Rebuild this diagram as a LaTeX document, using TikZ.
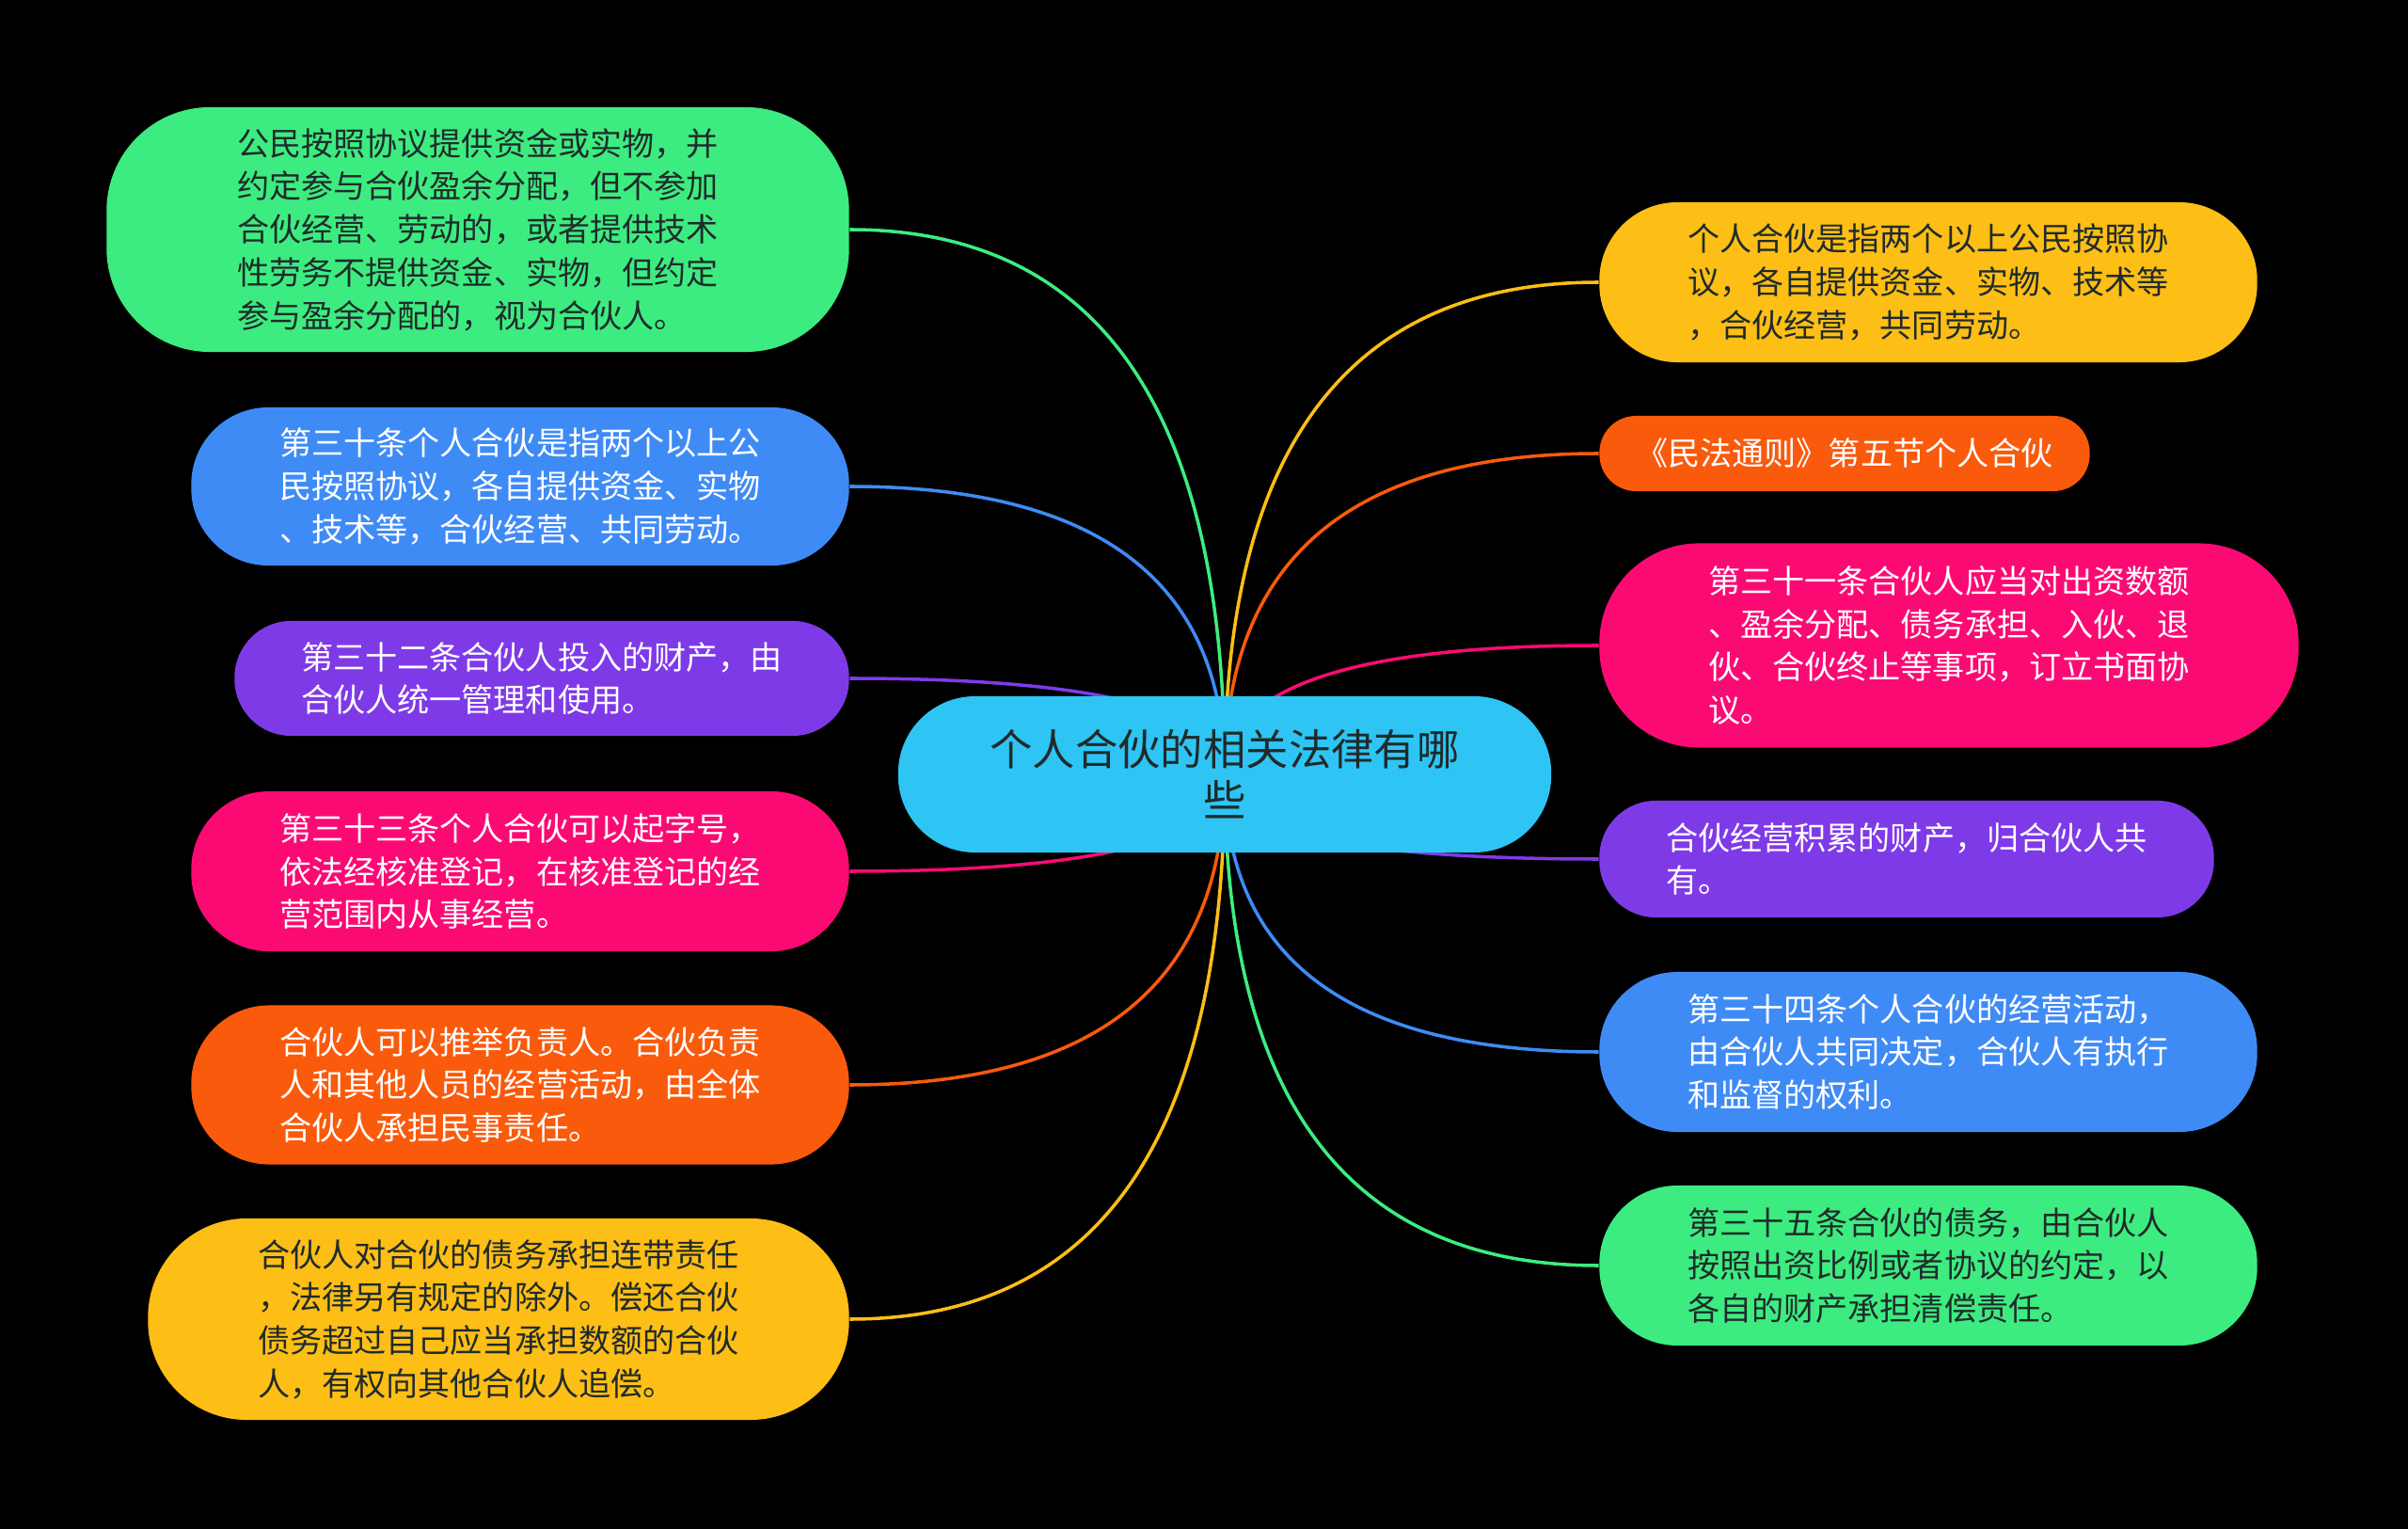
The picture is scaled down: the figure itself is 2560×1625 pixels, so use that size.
\documentclass[tikz,border=0pt]{standalone}
\usepackage{fontspec}
\setmainfont{Noto Sans CJK SC}
\usetikzlibrary{calc, backgrounds}

\definecolor{cgreen}{HTML}{3DEC80}
\definecolor{cblue}{HTML}{3F8BF6}
\definecolor{cpurple}{HTML}{7F3AE8}
\definecolor{cmagenta}{HTML}{FC0A74}
\definecolor{corange}{HTML}{FA5A0C}
\definecolor{cyellow}{HTML}{FDBE16}
\definecolor{ccyan}{HTML}{2EC5F4}
\definecolor{cdark}{HTML}{1F2B2B}

\tikzset{
	leaf/.style={rectangle, rounded corners=#1, align=left, inner sep=0pt,
		font=\fontsize{9.7}{13}\selectfont},
	link/.style={line width=1pt},
}

\begin{document}
\begin{tikzpicture}[x=0.01cm, y=-0.01cm]
			% centre
			\node[rectangle, rounded corners=0.82cm, fill=ccyan, text=cdark, align=center,
				minimum width=6.94cm, minimum height=1.66cm,
				font=\fontsize{12.9}{15.4}\selectfont] (c) at (1302,823) {个人合伙的相关法律有哪\\些};

			% left side
			\node[leaf=1.1cm, fill=cgreen, text=cdark, minimum width=7.89cm, minimum height=2.6cm] (l1) at (508,244)
				{公民按照协议提供资金或实物，并\\约定参与合伙盈余分配，但不参加\\合伙经营、劳动的，或者提供技术\\性劳务不提供资金、实物，但约定\\参与盈余分配的，视为合伙人。};
			\node[leaf=0.82cm, fill=cblue, text=white, minimum width=6.99cm, minimum height=1.68cm] (l2) at (553,517)
				{第三十条个人合伙是指两个以上公\\民按照协议，各自提供资金、实物\\、技术等，合伙经营、共同劳动。};
			\node[leaf=0.6cm, fill=cpurple, text=white, minimum width=6.53cm, minimum height=1.22cm] (l3) at (576,721)
				{第三十二条合伙人投入的财产，由\\合伙人统一管理和使用。};
			\node[leaf=0.83cm, fill=cmagenta, text=white, minimum width=6.99cm, minimum height=1.7cm] (l4) at (553,926)
				{第三十三条个人合伙可以起字号，\\依法经核准登记，在核准登记的经\\营范围内从事经营。};
			\node[leaf=0.83cm, fill=corange, text=white, minimum width=6.99cm, minimum height=1.69cm] (l5) at (553,1153)
				{合伙人可以推举负责人。合伙负责\\人和其他人员的经营活动，由全体\\合伙人承担民事责任。};
			\node[leaf=1.05cm, fill=cyellow, text=cdark, minimum width=7.45cm, minimum height=2.14cm] (l6) at (530,1402)
				{合伙人对合伙的债务承担连带责任\\，法律另有规定的除外。偿还合伙\\债务超过自己应当承担数额的合伙\\人，有权向其他合伙人追偿。};

			% right side
			\node[leaf=0.83cm, fill=cyellow, text=cdark, minimum width=6.99cm, minimum height=1.7cm] (r1) at (2050,300)
				{个人合伙是指两个以上公民按照协\\议，各自提供资金、实物、技术等\\，合伙经营，共同劳动。};
			\node[leaf=0.39cm, fill=corange, text=white, minimum width=5.21cm, minimum height=0.8cm] (r2) at (1961,482)
				{《民法通则》第五节个人合伙};
			\node[leaf=1.06cm, fill=cmagenta, text=white, minimum width=7.43cm, minimum height=2.17cm] (r3) at (2072,686)
				{第三十一条合伙人应当对出资数额\\、盈余分配、债务承担、入伙、退\\伙、合伙终止等事项，订立书面协\\议。};
			\node[leaf=0.6cm, fill=cpurple, text=white, minimum width=6.53cm, minimum height=1.24cm] (r4) at (2027,913)
				{合伙经营积累的财产，归合伙人共\\有。};
			\node[leaf=0.83cm, fill=cblue, text=white, minimum width=6.99cm, minimum height=1.7cm] (r5) at (2050,1118)
				{第三十四条个人合伙的经营活动，\\由合伙人共同决定，合伙人有执行\\和监督的权利。};
			\node[leaf=0.83cm, fill=cgreen, text=cdark, minimum width=6.99cm, minimum height=1.7cm] (r6) at (2050,1345)
				{第三十五条合伙的债务，由合伙人\\按照出资比例或者协议的约定，以\\各自的财产承担清偿责任。};

			\begin{scope}[on background layer]
				\fill[black] (0,0) rectangle (2560,1625);
				\foreach \n/\col/\a in {l1/cgreen/east, l2/cblue/east, l3/cpurple/east,
					l4/cmagenta/east, l5/corange/east, l6/cyellow/east,
					r1/cyellow/west, r2/corange/west, r3/cmagenta/west,
					r4/cpurple/west, r5/cblue/west, r6/cgreen/west}
				{
					\draw[link, \col] (c.center)
						.. controls ($(c.center)!2/3!(c.center |- \n.\a)$)
						and ($(\n.\a)!2/3!(c.center |- \n.\a)$) .. (\n.\a);
				}
			\end{scope}
		\end{tikzpicture}
\end{document}
